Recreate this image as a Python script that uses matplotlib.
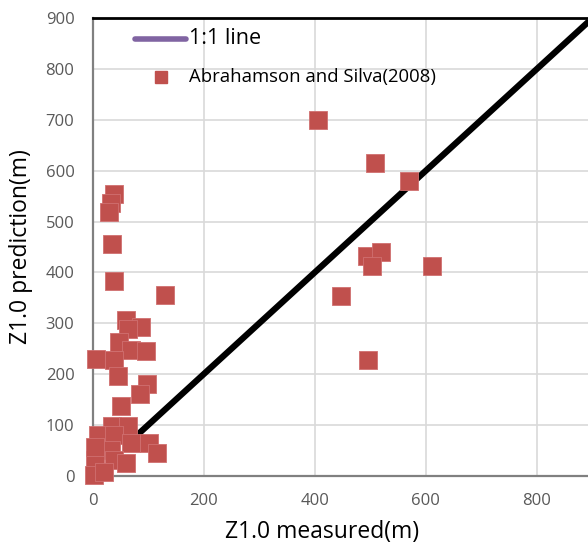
import matplotlib
matplotlib.use("Agg")
import matplotlib.pyplot as plt
from matplotlib.lines import Line2D

plt.rcParams['font.family'] = ['Open Sans', 'DejaVu Sans']

# Z1.0 measured vs predicted (m), Abrahamson and Silva (2008)
measured = [406, 509, 570, 494, 520, 503, 611, 447, 495,
            38, 34, 30, 35, 39, 131,
            60, 87, 63, 48, 69, 96, 6, 38, 45, 98, 86, 51,
            35, 63, 9, 38, 69, 102, 116, 33, 5, 38, 60, 2, 20, 5]
predicted = [700, 615, 580, 433, 440, 412, 412, 354, 228,
             554, 536, 519, 456, 383, 356,
             306, 293, 288, 264, 248, 246, 229, 227, 197, 180, 162, 138,
             98, 98, 80, 80, 65, 65, 46, 51, 31, 31, 25, 2, 8, 57]

# 1:1 reference line
line_x = [80, 900]
line_y = [80, 900]

x_ticks = [0, 200, 400, 600, 800]
y_ticks = [0, 100, 200, 300, 400, 500, 600, 700, 800, 900]

fig = plt.figure(figsize=(5.88, 5.44), dpi=100)
ax = fig.add_axes([92.5 / 588, 68 / 544, 500 / 588, 458 / 544])

ax.plot(line_x, line_y, color='black', lw=4.5, solid_capstyle='butt', zorder=2)
ax.scatter(measured, predicted, marker='s', s=150, color='#C0504D',
           edgecolors='#D07070', linewidths=0.6, zorder=3, clip_on=False)

ax.set_xlim(0, 900)
ax.set_ylim(0, 900)
ax.set_xticks(x_ticks)
ax.set_yticks(y_ticks)
ax.grid(True, color='#D9D9D9', lw=1.2)
ax.set_axisbelow(True)
ax.tick_params(length=0, labelsize=12, labelcolor='#595959')
ax.tick_params(axis='x', pad=12)
ax.tick_params(axis='y', pad=13)

for s in ['left', 'bottom']:
    ax.spines[s].set_color('#808080')
    ax.spines[s].set_linewidth(1.6)
ax.spines['top'].set_color('black')
ax.spines['top'].set_linewidth(2)
ax.spines['right'].set_visible(False)

ax.set_xlabel('Z1.0 measured(m)', fontsize=16.5)
ax.set_ylabel('Z1.0 prediction(m)', fontsize=16.5)
ax.xaxis.set_label_coords(0.46, -0.095)
ax.yaxis.set_label_coords(-0.119, 0.5)

handles = [Line2D([], [], color='#8064A2', lw=4, solid_capstyle='round'),
           Line2D([], [], color='#C0504D', marker='s', ls='none', markersize=8.4)]
leg = ax.legend(handles, ['1:1 line', 'Abrahamson and Silva(2008)'],
                loc='upper left', bbox_to_anchor=(0.06, 1.005), frameon=False,
                handlelength=3.7, handletextpad=0.2, labelspacing=1.35)
leg.get_texts()[0].set_fontsize(15.5)
leg.get_texts()[1].set_fontsize(13.3)

fig.savefig('out.png', dpi=100)
